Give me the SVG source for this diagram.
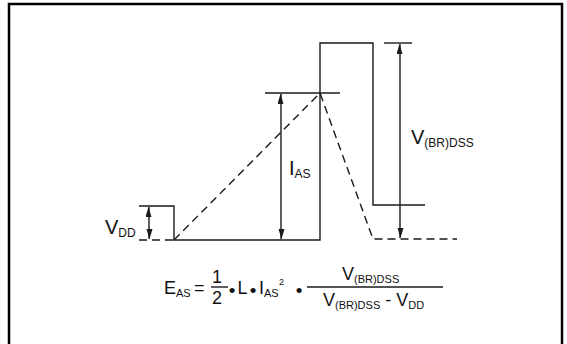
<svg xmlns="http://www.w3.org/2000/svg" width="567" height="344" viewBox="0 0 567 344">
<style>
.ln{fill:none;stroke:#1a1a1a;stroke-width:1.4}
.ds{fill:none;stroke:#1a1a1a;stroke-width:1.4;stroke-dasharray:8,5}
.ar{fill:none;stroke:#1a1a1a;stroke-width:1.4;marker-start:url(#ah);marker-end:url(#ah)}
text{font-family:"Liberation Sans",Arial,sans-serif;fill:#111}
.m{font-size:18px}
.L{font-size:20px}
.s{font-size:11px}
.sl{font-size:12px}
.p{font-size:9px}
.b{font-size:19px;text-anchor:middle}
</style>
<defs>
<marker id="ah" markerUnits="userSpaceOnUse" markerWidth="10" markerHeight="7" refX="10" refY="3.5" orient="auto-start-reverse">
<path d="M0,0 L10,3 L0,6 z" fill="#1a1a1a"/>
</marker>
</defs>
<rect x="9" y="4" width="553" height="360" fill="none" stroke="#000" stroke-width="2.5"/>
<g id="waveforms">
<path class="ln" d="M139,206 H174 V240 H320 V43 H373 V205 H425"/>
<line class="ds" x1="139" y1="240" x2="174" y2="240"/>
<path class="ds" d="M174,240 L320,93 L373,239 H457"/>
<line class="ln" x1="265" y1="93" x2="340" y2="93"/>
<line class="ln" x1="384" y1="43" x2="412" y2="43"/>
</g>
<g id="connectors">
<line class="ar" x1="149" y1="207" x2="149" y2="239"/>
<line class="ar" x1="281" y1="94" x2="281" y2="239"/>
<line class="ar" x1="400" y1="44" x2="400" y2="238"/>
</g>
<g id="label-vdd">
<text class="L" x="105" y="234">V<tspan class="sl" dy="3">DD</tspan></text>
</g>
<g id="label-ias">
<text class="L" x="289" y="175">I<tspan class="sl" dy="3">AS</tspan></text>
</g>
<g id="label-vbr">
<text class="L" x="411" y="144">V<tspan class="sl" dy="3">(BR)DSS</tspan></text>
</g>
<g id="equation">
<text class="m" x="164" y="294">E<tspan class="s" dy="3">AS</tspan></text>
<text class="m" x="194" y="294">=</text>
<text class="m" x="212" y="283">1</text>
<line class="ln" x1="211" y1="287" x2="228" y2="287"/>
<text class="m" x="212" y="304">2</text>
<text class="b" x="232" y="297">•</text>
<text class="m" x="237.5" y="294">L</text>
<text class="b" x="253" y="297">•</text>
<text class="m" x="259" y="294">I<tspan class="s" dy="3">AS</tspan></text>
<text class="p" x="279" y="285">2</text>
<text class="b" x="299" y="297">•</text>
<line class="ln" x1="307" y1="287" x2="443" y2="287"/>
<text class="m" x="342" y="280">V<tspan class="s" dy="3">(BR)DSS</tspan></text>
<text class="m" x="323" y="306">V<tspan class="s" dy="3">(BR)DSS</tspan><tspan dx="5" dy="-3">- V</tspan><tspan class="s" dy="3">DD</tspan></text>
</g>
</svg>
